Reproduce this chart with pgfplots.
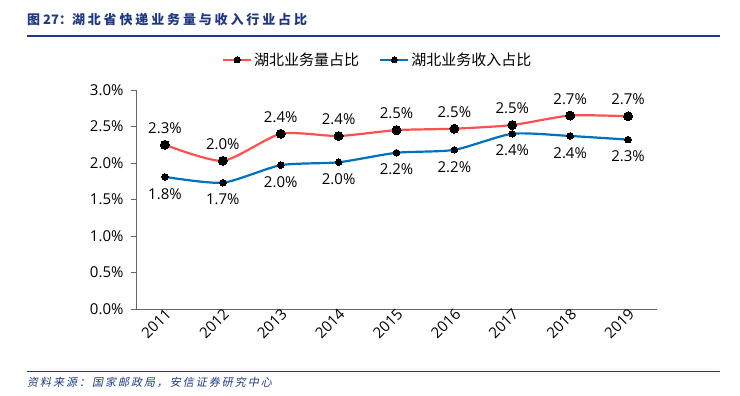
\documentclass[border=0pt]{standalone}
\usepackage{fontspec}
\setmainfont{Open Sans}
\newfontfamily\cjk{Noto Sans CJK SC}
\newfontfamily\cjkslant[FakeSlant=0.2]{Noto Sans CJK SC}
\usepackage{pgfplots}
\pgfplotsset{compat=1.18}
\definecolor{titleblue}{RGB}{31,56,130}
\definecolor{redline}{RGB}{255,80,80}
\definecolor{blueline}{RGB}{0,112,192}
\begin{document}
\begin{tikzpicture}
\path (0pt,0pt) rectangle (740pt,396pt);
% title
\node[anchor=west,inner sep=0,text=titleblue] at (27pt,376pt) {\cjk\bfseries\fontsize{13}{15}\selectfont 图 27：\addfontfeature{LetterSpace=22}湖北省快递业务量与收入行业占比};
\draw[titleblue,line width=1.5pt] (27pt,360pt) -- (720pt,360pt);
% source
\draw[titleblue,line width=0.8pt] (27pt,25pt) -- (720pt,25pt);
\node[anchor=west,inner sep=0,text=titleblue] at (27pt,14pt) {\cjkslant\fontsize{11}{13}\selectfont\addfontfeature{LetterSpace=18}资料来源：国家邮政局，安信证券研究中心};
\begin{axis}[
  at={(136pt,87pt)}, anchor=south west,
  scale only axis, width=521pt, height=219pt,
  xmin=-0.5, xmax=8.5, ymin=0, ymax=3,
  axis x line*=bottom, axis y line*=left,
  axis line style={black!60, line width=0.6pt, -},
  xtick={0,...,8},
  xticklabels={2011,2012,2013,2014,2015,2016,2017,2018,2019},
  extra x ticks={-0.5,0.5,1.5,2.5,3.5,4.5,5.5,6.5,7.5,8.5},
  extra x tick labels={},
  extra x tick style={major tick length=5pt, tick style={black!60, line width=0.6pt}, xtick align=outside},
  x tick style={draw=none},
  xticklabel style={rotate=45, anchor=east, font=\fontsize{15}{17}\selectfont, inner sep=1pt, yshift=-4pt, xshift=2pt},
  ytick={0,0.5,...,3},
  yticklabel={\pgfmathprintnumber[fixed,fixed zerofill,precision=1]{\tick}\%},
  yticklabel style={font=\fontsize{15}{17}\selectfont, xshift=-4pt},
  y tick style={black!60, line width=0.6pt},
  ytick align=outside, major tick length=5pt,
  /pgf/number format/assume math mode=true,
  legend style={at={(0.464,1.137)}, anchor=center, draw=none, fill=none,
    font=\cjk\fontsize{15}{17}\selectfont, legend columns=2,
    /tikz/every even column/.append style={column sep=18pt}},
  legend image code/.code={
    \draw[#1,mark=none] (0pt,0pt) -- (28pt,0pt);
    \draw[#1,only marks,mark size=3pt] plot coordinates {(14pt,0pt)};
  },
  clip=false,
  nodes near coords style={font=\fontsize{15}{17}\selectfont},
]
\addplot[redline, line width=2.2pt, smooth, tension=0.4,
  mark=*, mark size=4.5pt, mark options={black, fill=black, line width=0pt},
  nodes near coords={\pgfplotspointmeta},
  point meta=explicit symbolic,
  every node near coord/.append style={anchor=south, yshift=8pt, text=black}]
  coordinates {(0,2.25)[2.3\%] (1,2.03)[2.0\%] (2,2.40)[2.4\%] (3,2.37)[2.4\%] (4,2.45)[2.5\%] (5,2.47)[2.5\%] (6,2.52)[2.5\%] (7,2.65)[2.7\%] (8,2.64)[2.7\%]};
\addlegendentry{湖北业务量占比}
\addplot[blueline, line width=2.2pt, smooth, tension=0.4,
  mark=*, mark size=3.3pt, mark options={black, fill=black, line width=0pt},
  nodes near coords={\pgfplotspointmeta},
  point meta=explicit symbolic,
  every node near coord/.append style={anchor=north, yshift=-8pt, text=black}]
  coordinates {(0,1.81)[1.8\%] (1,1.73)[1.7\%] (2,1.97)[2.0\%] (3,2.01)[2.0\%] (4,2.14)[2.2\%] (5,2.18)[2.2\%] (6,2.40)[2.4\%] (7,2.37)[2.4\%] (8,2.32)[2.3\%]};
\addlegendentry{湖北业务收入占比}
\end{axis}
\end{tikzpicture}
\end{document}
